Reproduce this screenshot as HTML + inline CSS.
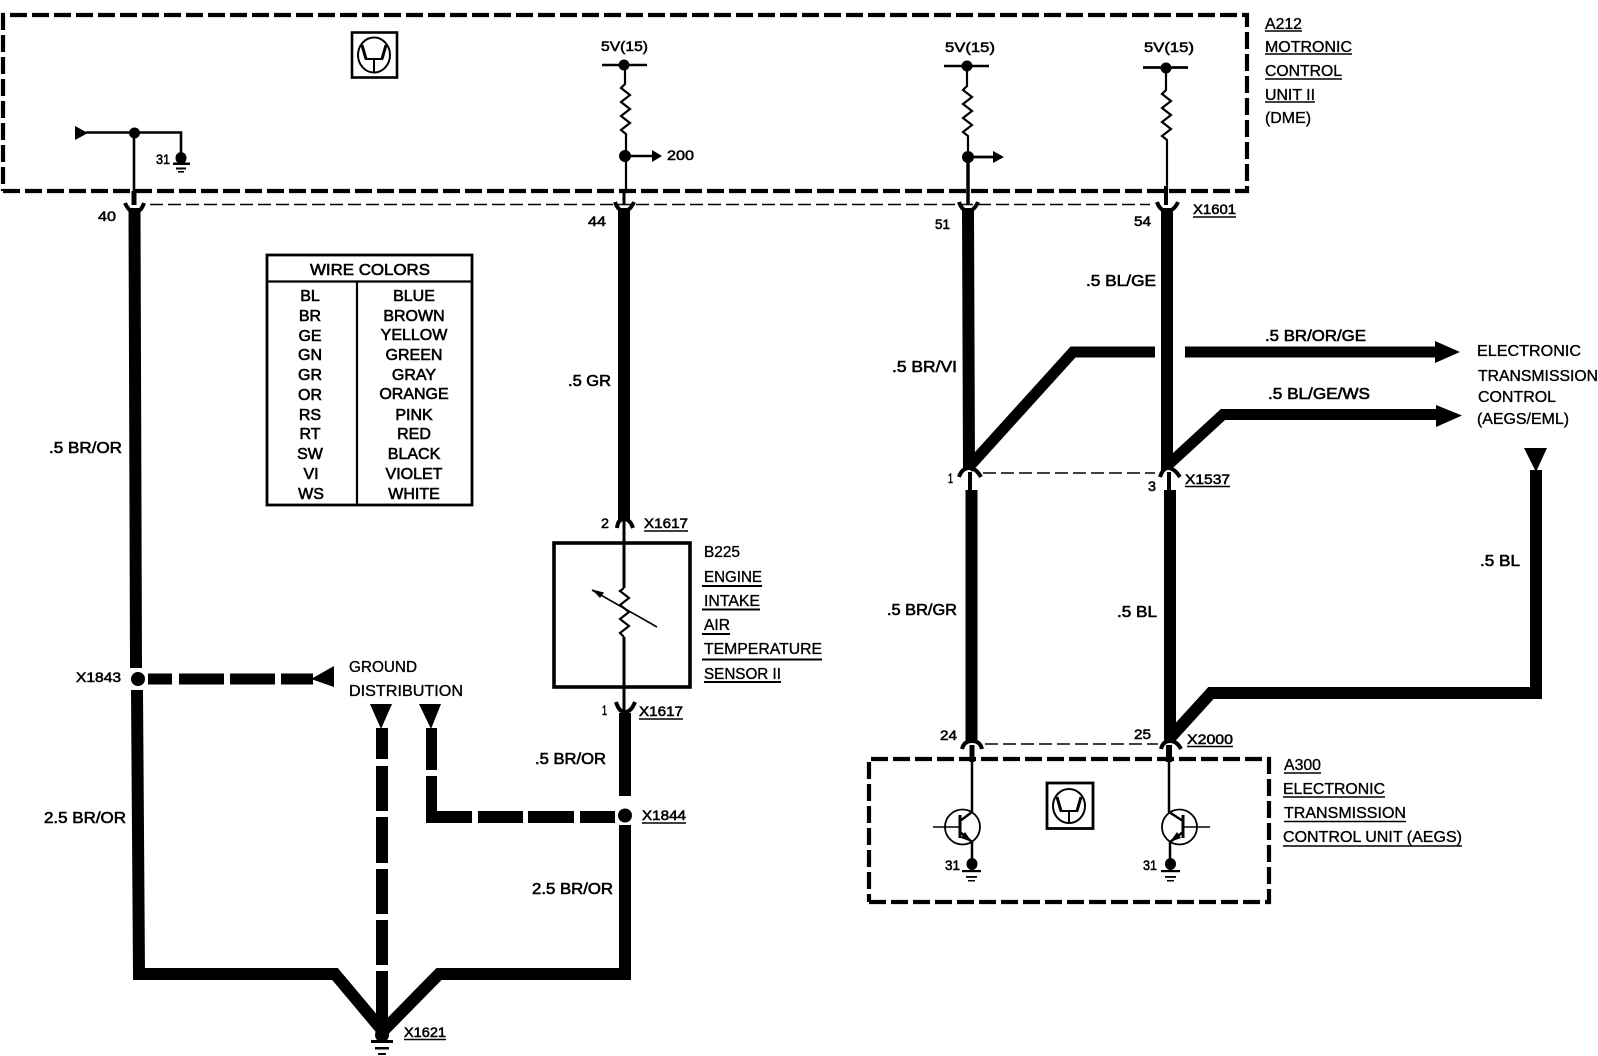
<!DOCTYPE html>
<html>
<head>
<meta charset="utf-8">
<style>
html,body{margin:0;padding:0;background:#fff;width:1598px;height:1056px;overflow:hidden}
svg{display:block}
text{font-family:"Liberation Sans",sans-serif;fill:#000;stroke:#000}
.s{font-size:14px;stroke-width:.55}
.m{font-size:15.500px;stroke-width:.6}
.t{font-size:16px;stroke-width:.6}
.l{font-size:16px;stroke-width:.35}
.th{fill:none;stroke:#000;stroke-width:2.200}
.w{fill:none;stroke:#000;stroke-width:12}
.d{fill:none;stroke:#000;stroke-width:11}
.box{fill:none;stroke:#000;stroke-width:4.200;stroke-dasharray:17 5}
.u{stroke:#000;stroke-width:1.600;fill:none}
</style>
</head>
<body>
<svg width="1598" height="1056" viewBox="0 0 1598 1056" xmlns="http://www.w3.org/2000/svg">
<rect width="1598" height="1056" fill="#fff"/>

<!-- dashed unit boxes -->
<path class="box" d="M3 191 H1247 V15 H3 V191"/>
<path class="box" d="M869 902 H1269 V759 H869 V902"/>

<!-- thin connector dashed lines -->
<path d="M150 204.500 H1150" fill="none" stroke="#000" stroke-width="1.600" stroke-dasharray="13 5"/>
<path d="M983 473 H1155" fill="none" stroke="#000" stroke-width="1.600" stroke-dasharray="13 5"/>
<path d="M985 744 H1158" fill="none" stroke="#000" stroke-width="1.600" stroke-dasharray="13 5"/>

<!-- main thick wires -->
<path class="w" d="M134.500 208 L136 668"/>
<path class="w" d="M137 690 L139 974 H335 L382 1030"/>
<path class="w" d="M624 208 V520"/>
<path class="w" d="M625 713 V796"/>
<path class="w" d="M625 825 V974 H439 L384 1030"/>
<path class="w" d="M968 208 L969 470"/>
<path class="w" d="M1167 208 V470"/>
<path class="w" d="M971.500 490 V742"/>
<path class="w" d="M1170 490 V742"/>

<!-- bend wires -->
<path class="d" d="M968 468 L1073 352 H1155"/>
<rect x="1185" y="346.500" width="252" height="11"/>
<polygon points="1435,341 1460,352 1435,363"/>
<path class="d" d="M1168 465 L1223 414.500 H1438"/>
<polygon points="1436,405 1462,415.500 1436,427"/>
<path class="w" d="M1170 738 L1211 693 H1536 V470"/>
<polygon points="1524,448 1547,448 1536,472"/>

<!-- dashed thick wires -->
<g>
<rect x="148" y="673.500" width="24" height="11"/>
<rect x="179" y="673.500" width="45" height="11"/>
<rect x="230" y="673.500" width="45" height="11"/>
<rect x="281" y="673.500" width="32" height="11"/>
<polygon points="311,679 334,666 334,687"/>
<circle cx="138" cy="679" r="7"/>

<polygon points="370,704 392,704 381,729"/>
<rect x="376" y="728" width="12" height="31"/>
<rect x="376" y="766" width="12" height="45"/>
<rect x="376" y="817" width="12" height="46"/>
<rect x="376" y="869" width="12" height="45"/>
<rect x="376" y="920" width="12" height="45"/>
<rect x="376" y="971" width="12" height="55"/>

<polygon points="419,704 441,704 431,729"/>
<rect x="426" y="728" width="11" height="42"/>
<rect x="426" y="776" width="11" height="47"/>
<rect x="426" y="811" width="46" height="12"/>
<rect x="478" y="811" width="45" height="12"/>
<rect x="528" y="811" width="46" height="12"/>
<rect x="580" y="811" width="35" height="12"/>
<circle cx="625" cy="815.500" r="7"/>
</g>

<!-- main ground -->
<ellipse cx="382" cy="1035" rx="7" ry="7"/>
<rect x="371" y="1040" width="22" height="3"/>
<rect x="375" y="1047" width="14" height="2.500"/>
<rect x="378" y="1053" width="8" height="2"/>

<!-- connector forks -->
<g fill="none" stroke="#000" stroke-width="4">
<path d="M125 203 Q129 212 135 212 Q141 212 144 203"/>
<path d="M615 202 Q618 211 624 211 Q630 211 634 202"/>
<path d="M959 202 Q962 211 968 211 Q974 211 978 202"/>
<path d="M1157 202 Q1160 211 1167 211 Q1174 211 1178 202"/>
<path d="M617 528 Q618 519 624 519 Q630 519 633 528"/>
<path d="M616 702 Q619 712 625 712 Q631 712 635 702"/>
<path d="M959 477 Q962 468 969 468 Q976 468 981 477"/>
<path d="M1160 477 Q1163 468 1168 468 Q1174 468 1180 477"/>
<path d="M962 749 Q964 741 972 741 Q980 741 982 749"/>
<path d="M1161 749 Q1163 741 1170 741 Q1177 741 1181 749"/>
</g>

<!-- stubs -->
<path d="M134 191 V205" stroke="#000" stroke-width="5" fill="none"/>
<path d="M624 191 V205" stroke="#000" stroke-width="3" fill="none"/>
<path d="M968 157 V205" stroke="#000" stroke-width="3.500" fill="none"/>
<path d="M1166 186 V205" stroke="#000" stroke-width="4" fill="none"/>
<path d="M970 472 V490" stroke="#000" stroke-width="4" fill="none"/>
<path d="M1169 472 V490" stroke="#000" stroke-width="4" fill="none"/>
<path d="M972 745 V762" stroke="#000" stroke-width="5" fill="none"/>
<path d="M1169 745 V762" stroke="#000" stroke-width="6" fill="none"/>
<path d="M624 520 V588 M624 637 V712" stroke="#000" stroke-width="3" fill="none"/>

<!-- inside A212: left -->
<polygon points="75,126 88,133 75,140"/>
<path class="th" d="M86 132.500 H181 V156 M134 133 V191" style="stroke-width:2.600"/>
<circle cx="134.500" cy="133" r="5.500"/>
<ellipse cx="181" cy="158" rx="5.500" ry="6"/>
<rect x="173" y="162.500" width="17" height="2.500"/>
<rect x="176" y="167.500" width="10" height="2"/>
<rect x="178" y="171" width="6" height="1.600"/>

<!-- 5V feeds -->
<g>
<path d="M602 65 H647" stroke="#000" stroke-width="2.500"/>
<circle cx="624" cy="65" r="5.500"/>
<path class="th" d="M625 65 V84 l-4 4 l9 7 l-9 7 l9 7 l-9 7 l9 7 l-9 7 l5 4 V191"/>
<circle cx="625" cy="156" r="6"/>
<path d="M625 156 H655" stroke="#000" stroke-width="2.500"/>
<polygon points="652,150 662,156 652,162"/>

<path d="M944 66 H989" stroke="#000" stroke-width="2.500"/>
<circle cx="967" cy="66" r="5.500"/>
<path class="th" d="M967 66 V86 l-4 4 l9 7 l-9 7 l9 7 l-9 7 l9 7 l-9 7 l5 4 V191"/>
<circle cx="968" cy="157" r="6"/>
<path d="M968 157 H996" stroke="#000" stroke-width="2.800"/>
<polygon points="993,151 1004,157 993,163"/>

<path d="M1143 67.500 H1188" stroke="#000" stroke-width="2.800"/>
<circle cx="1166" cy="68" r="5.500"/>
<path class="th" d="M1166 68 V90 l-4 4 l9 7 l-9 7 l9 7 l-9 7 l9 7 l-9 7 l5 4 V191"/>
</g>

<!-- chip icons -->
<g fill="none" stroke="#000">
<rect x="352" y="32.500" width="45" height="45" stroke-width="2.600"/>
<ellipse cx="374" cy="55" rx="16" ry="17.500" stroke-width="2"/>
<path d="M374 60 V72 M365 59 H383" stroke-width="2"/>
<path d="M366 59 L362 45 M382 59 L386 45" stroke-width="3"/>
<rect x="1047" y="783" width="46" height="45.500" stroke-width="2.800"/>
<ellipse cx="1069" cy="806" rx="16" ry="17" stroke-width="2"/>
<path d="M1069 811 V823 M1060 811 H1078" stroke-width="2"/>
<path d="M1061 811 L1057 797 M1077 811 L1081 797" stroke-width="3"/>
</g>

<!-- table -->
<g fill="none" stroke="#000">
<rect x="267" y="255" width="205" height="250" stroke-width="2.800"/>
<path d="M267 281.500 H472" stroke-width="2.200"/>
<path d="M357 281 V505" stroke-width="2.200"/>
</g>

<!-- B225 box -->
<rect x="554" y="543" width="136" height="144" fill="none" stroke="#000" stroke-width="3.600"/>
<path class="th" d="M624 588 l-4 3 l9 7 l-9 7 l9 7 l-9 7 l9 7 l-9 7 l4 4"/>
<path d="M592 590 L657 627" stroke="#000" stroke-width="1.600" fill="none"/>
<polygon points="592,589.500 604,592.500 600,598"/>

<!-- transistors -->
<g fill="none" stroke="#000">
<circle cx="962.500" cy="827" r="17.500" stroke-width="1.800"/>
<path d="M933 827 H959" stroke-width="1.400"/>
<path d="M960 815 V838" stroke-width="3"/>
<path d="M972 762 V812 L960 821 M960 832 L972 842 V862" stroke-width="2.500"/>
<circle cx="1179.500" cy="827" r="17.500" stroke-width="1.800"/>
<path d="M1183 827 H1210" stroke-width="1.400"/>
<path d="M1183 815 V838" stroke-width="3"/>
<path d="M1169 762 V812 L1183 821 M1183 832 L1170 842 V862" stroke-width="2.500"/>
</g>
<polygon points="972,842 961,838 965,832"/>
<polygon points="1170,842 1181,838 1177,832"/>
<ellipse cx="972" cy="864" rx="5.500" ry="6"/>
<rect x="962" y="870" width="19" height="2.200"/>
<rect x="966" y="876" width="11" height="1.800"/>
<rect x="968" y="880" width="7" height="1.500"/>
<ellipse cx="1170.500" cy="864" rx="5.500" ry="6"/>
<rect x="1161" y="870" width="19" height="2.200"/>
<rect x="1165" y="876" width="11" height="1.800"/>
<rect x="1167" y="880" width="7" height="1.500"/>

<!-- underlines -->
<g class="u">
<path d="M1265 31 H1302 M1265 54 H1352 M1265 79 H1342 M1265 102 H1315"/>
<path d="M1193 217 H1236 M1185 486.500 H1230 M644 531 H688 M639 719 H683 M642 823 H686 M404 1039.500 H446 M1187 746.500 H1233"/>
<path d="M702 586 H762 M702 609.500 H760 M702 634 H730 M702 659.500 H822 M704 682 H781" stroke-width="2"/>
<path d="M1284 773 H1321 M1283 797 H1385 M1284 821.500 H1406 M1283 846 H1462"/>
</g>

<!-- text: top -->
<g class="s">
<text x="601" y="51" textLength="47" lengthAdjust="spacingAndGlyphs">5V(15)</text>
<text x="945" y="52" textLength="50" lengthAdjust="spacingAndGlyphs">5V(15)</text>
<text x="1144" y="52" textLength="50" lengthAdjust="spacingAndGlyphs">5V(15)</text>
<text x="667" y="160" textLength="27" lengthAdjust="spacingAndGlyphs">200</text>
<text x="156" y="164" textLength="14" lengthAdjust="spacingAndGlyphs">31</text>
<text x="98" y="221" textLength="18" lengthAdjust="spacingAndGlyphs">40</text>
<text x="588" y="226" textLength="18" lengthAdjust="spacingAndGlyphs">44</text>
<text x="935" y="229" textLength="15" lengthAdjust="spacingAndGlyphs">51</text>
<text x="1134" y="226" textLength="17" lengthAdjust="spacingAndGlyphs">54</text>
<text x="1193" y="214" textLength="43" lengthAdjust="spacingAndGlyphs">X1601</text>
<text x="601" y="528" textLength="8" lengthAdjust="spacingAndGlyphs">2</text>
<text x="644" y="528" textLength="44" lengthAdjust="spacingAndGlyphs">X1617</text>
<text x="602" y="715" textLength="5" lengthAdjust="spacingAndGlyphs">1</text>
<text x="639" y="716" textLength="44" lengthAdjust="spacingAndGlyphs">X1617</text>
<text x="76" y="682" textLength="45" lengthAdjust="spacingAndGlyphs">X1843</text>
<text x="642" y="820" textLength="44" lengthAdjust="spacingAndGlyphs">X1844</text>
<text x="404" y="1037" textLength="42" lengthAdjust="spacingAndGlyphs">X1621</text>
<text x="948" y="483" textLength="5" lengthAdjust="spacingAndGlyphs">1</text>
<text x="1148" y="491" textLength="8" lengthAdjust="spacingAndGlyphs">3</text>
<text x="1185" y="484" textLength="45" lengthAdjust="spacingAndGlyphs">X1537</text>
<text x="940" y="740" textLength="17" lengthAdjust="spacingAndGlyphs">24</text>
<text x="1134" y="739" textLength="17" lengthAdjust="spacingAndGlyphs">25</text>
<text x="1187" y="744" textLength="46" lengthAdjust="spacingAndGlyphs">X2000</text>
<text x="945" y="870" textLength="15" lengthAdjust="spacingAndGlyphs">31</text>
<text x="1143" y="870" textLength="14" lengthAdjust="spacingAndGlyphs">31</text>
</g>

<!-- wire labels -->
<g class="m">
<text x="49" y="453" textLength="73" lengthAdjust="spacingAndGlyphs">.5 BR/OR</text>
<text x="568" y="386" textLength="43" lengthAdjust="spacingAndGlyphs">.5 GR</text>
<text x="535" y="764" textLength="71" lengthAdjust="spacingAndGlyphs">.5 BR/OR</text>
<text x="44" y="823" textLength="82" lengthAdjust="spacingAndGlyphs">2.5 BR/OR</text>
<text x="532" y="894" textLength="81" lengthAdjust="spacingAndGlyphs">2.5 BR/OR</text>
<text x="1086" y="286" textLength="70" lengthAdjust="spacingAndGlyphs">.5 BL/GE</text>
<text x="892" y="372" textLength="65" lengthAdjust="spacingAndGlyphs">.5 BR/VI</text>
<text x="1265" y="341" textLength="101" lengthAdjust="spacingAndGlyphs">.5 BR/OR/GE</text>
<text x="1268" y="399" textLength="102" lengthAdjust="spacingAndGlyphs">.5 BL/GE/WS</text>
<text x="887" y="615" textLength="70" lengthAdjust="spacingAndGlyphs">.5 BR/GR</text>
<text x="1117" y="617" textLength="40" lengthAdjust="spacingAndGlyphs">.5 BL</text>
<text x="1480" y="566" textLength="40" lengthAdjust="spacingAndGlyphs">.5 BL</text>
</g>

<!-- component names -->
<g class="l">
<text x="1265" y="29" textLength="37" lengthAdjust="spacingAndGlyphs">A212</text>
<text x="1265" y="52" textLength="87" lengthAdjust="spacingAndGlyphs">MOTRONIC</text>
<text x="1265" y="76" textLength="77" lengthAdjust="spacingAndGlyphs">CONTROL</text>
<text x="1265" y="100" textLength="50" lengthAdjust="spacingAndGlyphs">UNIT II</text>
<text x="1265" y="123" textLength="46" lengthAdjust="spacingAndGlyphs">(DME)</text>
<text x="1477" y="356" textLength="104" lengthAdjust="spacingAndGlyphs">ELECTRONIC</text>
<text x="1478" y="381" textLength="120" lengthAdjust="spacingAndGlyphs">TRANSMISSION</text>
<text x="1478" y="402" textLength="78" lengthAdjust="spacingAndGlyphs">CONTROL</text>
<text x="1477" y="424" textLength="92" lengthAdjust="spacingAndGlyphs">(AEGS/EML)</text>
<text x="704" y="557" textLength="36" lengthAdjust="spacingAndGlyphs">B225</text>
<text x="704" y="582" textLength="58" lengthAdjust="spacingAndGlyphs">ENGINE</text>
<text x="704" y="606" textLength="56" lengthAdjust="spacingAndGlyphs">INTAKE</text>
<text x="704" y="630" textLength="26" lengthAdjust="spacingAndGlyphs">AIR</text>
<text x="704" y="654" textLength="118" lengthAdjust="spacingAndGlyphs">TEMPERATURE</text>
<text x="704" y="679" textLength="77" lengthAdjust="spacingAndGlyphs">SENSOR II</text>
<text x="349" y="672" textLength="68" lengthAdjust="spacingAndGlyphs">GROUND</text>
<text x="349" y="696" textLength="114" lengthAdjust="spacingAndGlyphs">DISTRIBUTION</text>
<text x="1284" y="770" textLength="37" lengthAdjust="spacingAndGlyphs">A300</text>
<text x="1283" y="794" textLength="102" lengthAdjust="spacingAndGlyphs">ELECTRONIC</text>
<text x="1284" y="818" textLength="122" lengthAdjust="spacingAndGlyphs">TRANSMISSION</text>
<text x="1283" y="842" textLength="179" lengthAdjust="spacingAndGlyphs">CONTROL UNIT (AEGS)</text>
</g>

<!-- table text -->
<g class="t">
<text x="310" y="275" textLength="120" lengthAdjust="spacingAndGlyphs">WIRE COLORS</text>
<g text-anchor="middle">
<text x="310" y="301">BL</text>
<text x="310" y="321">BR</text>
<text x="310" y="341">GE</text>
<text x="310" y="360">GN</text>
<text x="310" y="380">GR</text>
<text x="310" y="400">OR</text>
<text x="310" y="420">RS</text>
<text x="310" y="439">RT</text>
<text x="310" y="459">SW</text>
<text x="311" y="479">VI</text>
<text x="311" y="499">WS</text>
<text x="414" y="301">BLUE</text>
<text x="414" y="321">BROWN</text>
<text x="414" y="340">YELLOW</text>
<text x="414" y="360">GREEN</text>
<text x="414" y="380">GRAY</text>
<text x="414" y="399">ORANGE</text>
<text x="414" y="420">PINK</text>
<text x="414" y="439">RED</text>
<text x="414" y="459">BLACK</text>
<text x="414" y="479">VIOLET</text>
<text x="414" y="499">WHITE</text>
</g>
</g>
</svg>
</body>
</html>
